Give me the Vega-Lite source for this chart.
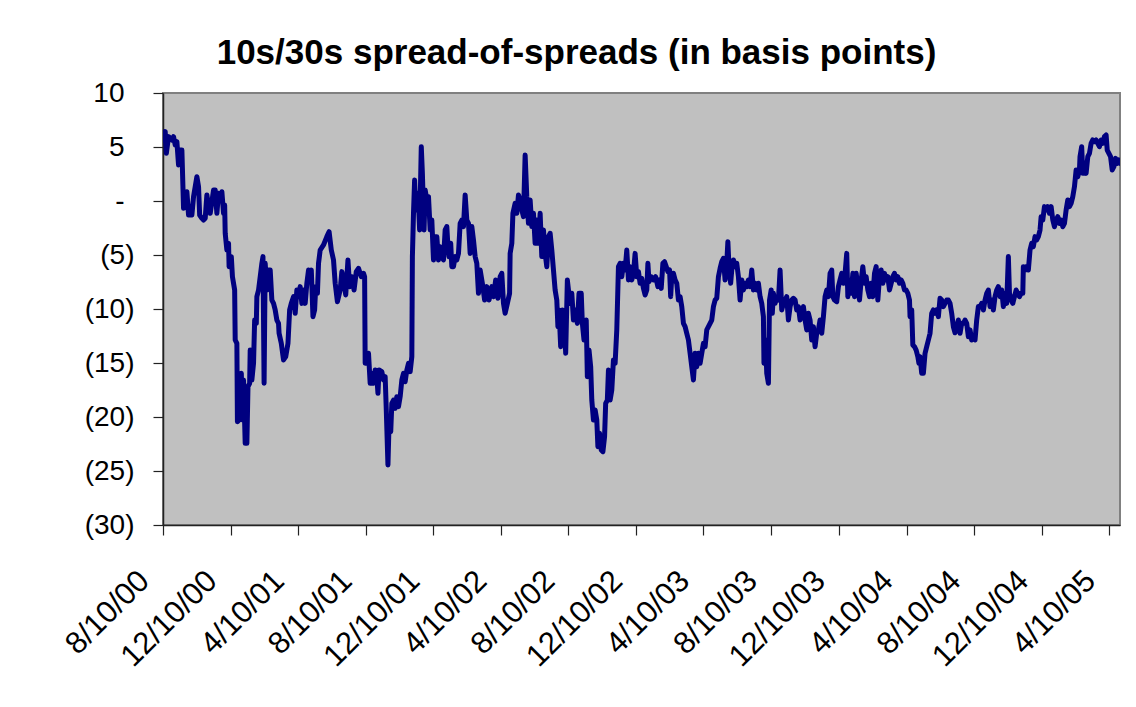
{
"$schema": "https://vega.github.io/schema/vega-lite/v6.json",
"width": 957, "height": 432,
"autosize": {"type": "none"},
"padding": {"left": 163, "top": 93, "right": 16, "bottom": 182},
"background": "white",
"title": {"text": "10s/30s spread-of-spreads (in basis points)", "font": "Liberation Sans", "fontSize": 35, "fontWeight": "bold", "color": "#000000", "anchor": "middle", "frame": "group", "dx": -65, "dy": 48, "offset": 28, "baseline": "alphabetic"},
"config": {"view": {"fill": "#C0C0C0", "stroke": "#808080", "strokeWidth": 2}, "axis": {"grid": false, "labelFont": "Liberation Sans", "labelColor": "#000000", "domainColor": "#222222", "tickColor": "#222222", "tickSize": 10, "domainWidth": 1.5, "tickWidth": 1.2}},
"data": {"values": [
{"date":"2000-08-10","bp":5.65},{"date":"2000-08-14","bp":6.42},{"date":"2000-08-16","bp":4.41},{"date":"2000-08-20","bp":5.96},{"date":"2000-08-26","bp":5.65},{"date":"2000-08-29","bp":5.96},{"date":"2000-09-01","bp":5.19},{"date":"2000-09-04","bp":5.49},{"date":"2000-09-07","bp":3.33},{"date":"2000-09-10","bp":4.72},{"date":"2000-09-13","bp":4.72},{"date":"2000-09-16","bp":-0.68},{"date":"2000-09-19","bp":0.09},{"date":"2000-09-22","bp":0.86},{"date":"2000-09-25","bp":-1.30},{"date":"2000-09-28","bp":-0.52},{"date":"2000-10-01","bp":-1.30},{"date":"2000-10-04","bp":0.40},{"date":"2000-10-07","bp":1.33},{"date":"2000-10-10","bp":2.25},{"date":"2000-10-13","bp":1.33},{"date":"2000-10-15","bp":-1.30},{"date":"2000-10-19","bp":-1.60},{"date":"2000-10-22","bp":-1.76},{"date":"2000-10-25","bp":-1.60},{"date":"2000-10-28","bp":0.56},{"date":"2000-10-31","bp":-0.52},{"date":"2000-11-03","bp":-1.14},{"date":"2000-11-06","bp":-0.06},{"date":"2000-11-09","bp":1.02},{"date":"2000-11-12","bp":1.02},{"date":"2000-11-15","bp":-1.14},{"date":"2000-11-18","bp":0.71},{"date":"2000-11-21","bp":0.09},{"date":"2000-11-24","bp":0.86},{"date":"2000-11-27","bp":-1.14},{"date":"2000-11-29","bp":-0.37},{"date":"2000-11-30","bp":-2.99},{"date":"2000-12-03","bp":-4.54},{"date":"2000-12-06","bp":-3.92},{"date":"2000-12-07","bp":-6.08},{"date":"2000-12-11","bp":-5.15},{"date":"2000-12-13","bp":-7.01},{"date":"2000-12-17","bp":-8.24},{"date":"2000-12-18","bp":-12.87},{"date":"2000-12-21","bp":-13.18},{"date":"2000-12-22","bp":-20.43},{"date":"2000-12-25","bp":-20.28},{"date":"2000-12-29","bp":-15.96},{"date":"2000-12-31","bp":-20.28},
{"date":"2001-01-02","bp":-16.57},{"date":"2001-01-05","bp":-22.44},{"date":"2001-01-08","bp":-22.44},{"date":"2001-01-10","bp":-17.19},{"date":"2001-01-13","bp":-16.88},{"date":"2001-01-14","bp":-13.80},{"date":"2001-01-17","bp":-16.57},{"date":"2001-01-20","bp":-15.03},{"date":"2001-01-22","bp":-11.02},{"date":"2001-01-25","bp":-11.33},{"date":"2001-01-26","bp":-8.86},{"date":"2001-01-29","bp":-8.24},{"date":"2001-02-01","bp":-7.01},{"date":"2001-02-04","bp":-5.77},{"date":"2001-02-06","bp":-5.15},{"date":"2001-02-08","bp":-16.88},{"date":"2001-02-10","bp":-5.77},{"date":"2001-02-13","bp":-8.24},{"date":"2001-02-16","bp":-6.39},{"date":"2001-02-19","bp":-6.39},{"date":"2001-02-22","bp":-9.17},{"date":"2001-02-25","bp":-9.48},{"date":"2001-02-28","bp":-10.09},{"date":"2001-03-03","bp":-11.02},{"date":"2001-03-06","bp":-11.33},{"date":"2001-03-07","bp":-12.25},{"date":"2001-03-11","bp":-13.18},{"date":"2001-03-15","bp":-14.72},{"date":"2001-03-19","bp":-14.41},{"date":"2001-03-23","bp":-13.18},{"date":"2001-03-26","bp":-10.09},{"date":"2001-03-29","bp":-9.48},{"date":"2001-04-02","bp":-8.86},{"date":"2001-04-05","bp":-10.40},{"date":"2001-04-08","bp":-8.24},{"date":"2001-04-11","bp":-8.86},{"date":"2001-04-14","bp":-7.93},{"date":"2001-04-17","bp":-9.48},{"date":"2001-04-20","bp":-8.24},{"date":"2001-04-23","bp":-9.48},{"date":"2001-04-26","bp":-7.62},{"date":"2001-04-29","bp":-6.39},{"date":"2001-05-02","bp":-6.70},{"date":"2001-05-04","bp":-6.39},{"date":"2001-05-07","bp":-10.71},{"date":"2001-05-10","bp":-10.09},{"date":"2001-05-12","bp":-7.93},{"date":"2001-05-15","bp":-8.55},{"date":"2001-05-17","bp":-5.77},
{"date":"2001-05-20","bp":-4.54},{"date":"2001-05-26","bp":-4.07},{"date":"2001-06-01","bp":-3.30},{"date":"2001-06-05","bp":-2.84},{"date":"2001-06-09","bp":-4.54},{"date":"2001-06-13","bp":-5.46},{"date":"2001-06-16","bp":-7.62},{"date":"2001-06-20","bp":-9.32},{"date":"2001-06-25","bp":-8.24},{"date":"2001-06-28","bp":-6.54},{"date":"2001-07-01","bp":-7.31},{"date":"2001-07-05","bp":-8.70},{"date":"2001-07-09","bp":-5.46},{"date":"2001-07-12","bp":-7.93},{"date":"2001-07-16","bp":-7.01},{"date":"2001-07-20","bp":-8.24},{"date":"2001-07-24","bp":-6.54},{"date":"2001-07-28","bp":-6.23},{"date":"2001-08-02","bp":-7.01},{"date":"2001-08-06","bp":-6.70},{"date":"2001-08-08","bp":-7.01},{"date":"2001-08-09","bp":-15.03},{"date":"2001-08-12","bp":-15.03},{"date":"2001-08-15","bp":-14.10},{"date":"2001-08-18","bp":-16.88},{"date":"2001-08-21","bp":-15.96},{"date":"2001-08-24","bp":-16.88},{"date":"2001-08-27","bp":-15.65},{"date":"2001-08-30","bp":-16.27},{"date":"2001-09-01","bp":-17.81},{"date":"2001-09-03","bp":-15.65},{"date":"2001-09-08","bp":-15.80},{"date":"2001-09-11","bp":-16.57},{"date":"2001-09-14","bp":-16.27},{"date":"2001-09-16","bp":-19.35},{"date":"2001-09-19","bp":-24.44},{"date":"2001-09-21","bp":-20.59},{"date":"2001-09-24","bp":-21.36},{"date":"2001-09-26","bp":-18.73},{"date":"2001-09-29","bp":-18.43},{"date":"2001-10-02","bp":-19.20},{"date":"2001-10-05","bp":-18.12},{"date":"2001-10-08","bp":-19.04},{"date":"2001-10-11","bp":-18.12},{"date":"2001-10-14","bp":-16.57},{"date":"2001-10-17","bp":-15.96},{"date":"2001-10-20","bp":-16.73},{"date":"2001-10-23","bp":-15.65},{"date":"2001-10-26","bp":-15.03},{"date":"2001-10-29","bp":-15.80},{"date":"2001-11-01","bp":-14.41},{"date":"2001-11-02","bp":-5.15},{"date":"2001-11-04","bp":-1.14},{"date":"2001-11-06","bp":1.94},{"date":"2001-11-08","bp":-0.83},{"date":"2001-11-11","bp":0.71},{"date":"2001-11-13","bp":-0.22},{"date":"2001-11-15","bp":-2.68},{"date":"2001-11-18","bp":5.03},{"date":"2001-11-20","bp":2.56},{"date":"2001-11-23","bp":-2.68},{"date":"2001-11-25","bp":1.02},{"date":"2001-11-28","bp":0.09},{"date":"2001-12-01","bp":0.40},{"date":"2001-12-04","bp":-2.68},{"date":"2001-12-07","bp":-1.76},{"date":"2001-12-10","bp":-5.46},{"date":"2001-12-13","bp":-3.30},{"date":"2001-12-16","bp":-3.30},{"date":"2001-12-19","bp":-5.46},{"date":"2001-12-22","bp":-4.23},{"date":"2001-12-25","bp":-5.15},{"date":"2001-12-28","bp":-5.46},{"date":"2001-12-31","bp":-2.68},
{"date":"2002-01-03","bp":-2.37},{"date":"2002-01-05","bp":-4.23},{"date":"2002-01-07","bp":-5.15},{"date":"2002-01-10","bp":-3.92},{"date":"2002-01-12","bp":-6.08},{"date":"2002-01-15","bp":-6.08},{"date":"2002-01-18","bp":-5.15},{"date":"2002-01-21","bp":-5.46},{"date":"2002-01-24","bp":-4.85},{"date":"2002-01-27","bp":-2.07},{"date":"2002-01-30","bp":-1.76},{"date":"2002-02-02","bp":-2.37},{"date":"2002-02-05","bp":0.56},{"date":"2002-02-08","bp":-1.76},{"date":"2002-02-11","bp":-2.07},{"date":"2002-02-14","bp":-4.85},{"date":"2002-02-17","bp":-2.37},{"date":"2002-02-20","bp":-3.61},{"date":"2002-02-23","bp":-5.15},{"date":"2002-02-26","bp":-5.77},{"date":"2002-03-01","bp":-8.55},{"date":"2002-03-04","bp":-6.39},{"date":"2002-03-08","bp":-7.62},{"date":"2002-03-12","bp":-9.17},{"date":"2002-03-16","bp":-7.93},{"date":"2002-03-20","bp":-9.17},{"date":"2002-03-25","bp":-7.93},{"date":"2002-03-28","bp":-8.86},{"date":"2002-04-01","bp":-7.31},{"date":"2002-04-05","bp":-9.01},{"date":"2002-04-09","bp":-7.01},{"date":"2002-04-12","bp":-6.70},{"date":"2002-04-15","bp":-9.48},{"date":"2002-04-18","bp":-10.40},{"date":"2002-04-22","bp":-9.48},{"date":"2002-04-26","bp":-8.55},{"date":"2002-04-27","bp":-4.85},{"date":"2002-04-30","bp":-3.92},{"date":"2002-05-02","bp":-1.14},{"date":"2002-05-06","bp":-0.22},{"date":"2002-05-09","bp":-1.14},{"date":"2002-05-12","bp":0.56},{"date":"2002-05-15","bp":0.09},{"date":"2002-05-18","bp":-0.83},{"date":"2002-05-21","bp":-1.45},{"date":"2002-05-24","bp":4.26},{"date":"2002-05-27","bp":0.40},{"date":"2002-05-30","bp":-2.07},{"date":"2002-06-02","bp":0.09},{"date":"2002-06-05","bp":-2.37},{"date":"2002-06-08","bp":-1.14},{"date":"2002-06-11","bp":-3.92},{"date":"2002-06-14","bp":-1.76},{"date":"2002-06-17","bp":-3.92},{"date":"2002-06-20","bp":-1.14},{"date":"2002-06-23","bp":-5.15},{"date":"2002-06-26","bp":-2.68},{"date":"2002-06-29","bp":-4.85},{"date":"2002-07-02","bp":-6.08},{"date":"2002-07-05","bp":-3.30},{"date":"2002-07-08","bp":-2.99},{"date":"2002-07-11","bp":-4.54},{"date":"2002-07-14","bp":-6.39},{"date":"2002-07-17","bp":-8.24},{"date":"2002-07-20","bp":-9.17},{"date":"2002-07-22","bp":-11.64},{"date":"2002-07-24","bp":-10.09},{"date":"2002-07-27","bp":-13.49},{"date":"2002-07-30","bp":-10.09},{"date":"2002-08-03","bp":-11.64},{"date":"2002-08-05","bp":-14.10},{"date":"2002-08-08","bp":-7.31},{"date":"2002-08-10","bp":-8.24},{"date":"2002-08-13","bp":-9.48},{"date":"2002-08-16","bp":-8.55},{"date":"2002-08-19","bp":-11.02},{"date":"2002-08-22","bp":-10.09},{"date":"2002-08-26","bp":-11.33},{"date":"2002-08-29","bp":-8.55},{"date":"2002-09-02","bp":-8.55},{"date":"2002-09-04","bp":-11.33},{"date":"2002-09-07","bp":-12.87},{"date":"2002-09-11","bp":-11.02},{"date":"2002-09-13","bp":-16.27},{"date":"2002-09-16","bp":-13.80},{"date":"2002-09-19","bp":-15.34},{"date":"2002-09-21","bp":-18.43},{"date":"2002-09-24","bp":-20.28},{"date":"2002-09-27","bp":-19.35},{"date":"2002-09-30","bp":-20.28},{"date":"2002-10-02","bp":-22.75},{"date":"2002-10-05","bp":-21.51},{"date":"2002-10-08","bp":-23.06},{"date":"2002-10-11","bp":-23.21},{"date":"2002-10-14","bp":-21.82},{"date":"2002-10-16","bp":-18.73},{"date":"2002-10-19","bp":-18.43},{"date":"2002-10-21","bp":-15.65},{"date":"2002-10-24","bp":-18.43},{"date":"2002-10-27","bp":-17.50},{"date":"2002-10-30","bp":-14.72},{"date":"2002-11-02","bp":-15.03},{"date":"2002-11-05","bp":-11.94},{"date":"2002-11-08","bp":-6.08},{"date":"2002-11-11","bp":-5.77},{"date":"2002-11-14","bp":-7.01},{"date":"2002-11-17","bp":-5.77},{"date":"2002-11-20","bp":-6.39},{"date":"2002-11-23","bp":-4.54},{"date":"2002-11-26","bp":-7.31},{"date":"2002-11-29","bp":-6.08},{"date":"2002-12-02","bp":-7.31},{"date":"2002-12-05","bp":-6.70},{"date":"2002-12-08","bp":-4.85},{"date":"2002-12-11","bp":-7.01},{"date":"2002-12-14","bp":-6.54},{"date":"2002-12-17","bp":-7.62},{"date":"2002-12-20","bp":-7.16},{"date":"2002-12-23","bp":-8.09},{"date":"2002-12-26","bp":-8.70},{"date":"2002-12-29","bp":-8.24},{"date":"2002-12-31","bp":-5.77},
{"date":"2003-01-02","bp":-7.47},{"date":"2003-01-06","bp":-7.01},{"date":"2003-01-10","bp":-7.31},{"date":"2003-01-14","bp":-7.01},{"date":"2003-01-18","bp":-7.93},{"date":"2003-01-20","bp":-7.31},{"date":"2003-01-24","bp":-8.09},{"date":"2003-01-27","bp":-5.77},{"date":"2003-01-30","bp":-5.62},{"date":"2003-02-02","bp":-6.08},{"date":"2003-02-05","bp":-6.54},{"date":"2003-02-08","bp":-6.39},{"date":"2003-02-10","bp":-8.86},{"date":"2003-02-12","bp":-7.01},{"date":"2003-02-15","bp":-6.70},{"date":"2003-02-18","bp":-7.31},{"date":"2003-02-21","bp":-7.62},{"date":"2003-02-24","bp":-9.17},{"date":"2003-02-27","bp":-8.86},{"date":"2003-03-02","bp":-9.78},{"date":"2003-03-05","bp":-11.33},{"date":"2003-03-08","bp":-11.64},{"date":"2003-03-11","bp":-12.25},{"date":"2003-03-14","bp":-12.87},{"date":"2003-03-17","bp":-14.10},{"date":"2003-03-20","bp":-15.34},{"date":"2003-03-23","bp":-16.57},{"date":"2003-03-26","bp":-14.10},{"date":"2003-03-29","bp":-15.34},{"date":"2003-04-01","bp":-14.10},{"date":"2003-04-04","bp":-15.03},{"date":"2003-04-07","bp":-14.10},{"date":"2003-04-10","bp":-13.18},{"date":"2003-04-13","bp":-13.49},{"date":"2003-04-16","bp":-11.94},{"date":"2003-04-19","bp":-11.64},{"date":"2003-04-22","bp":-11.33},{"date":"2003-04-25","bp":-11.02},{"date":"2003-04-28","bp":-9.78},{"date":"2003-05-01","bp":-9.17},{"date":"2003-05-04","bp":-9.01},{"date":"2003-05-07","bp":-7.01},{"date":"2003-05-10","bp":-6.24},{"date":"2003-05-13","bp":-5.62},{"date":"2003-05-16","bp":-5.31},{"date":"2003-05-19","bp":-7.31},{"date":"2003-05-22","bp":-5.77},{"date":"2003-05-24","bp":-3.77},{"date":"2003-05-26","bp":-6.08},{"date":"2003-05-29","bp":-7.62},{"date":"2003-05-31","bp":-6.39},{"date":"2003-06-03","bp":-5.46},{"date":"2003-06-06","bp":-6.08},{"date":"2003-06-09","bp":-5.77},{"date":"2003-06-12","bp":-7.01},{"date":"2003-06-15","bp":-9.17},{"date":"2003-06-18","bp":-7.31},{"date":"2003-06-21","bp":-8.24},{"date":"2003-06-24","bp":-7.62},{"date":"2003-06-27","bp":-7.93},{"date":"2003-06-30","bp":-7.31},{"date":"2003-07-03","bp":-7.93},{"date":"2003-07-06","bp":-6.39},{"date":"2003-07-09","bp":-8.24},{"date":"2003-07-12","bp":-7.62},{"date":"2003-07-15","bp":-8.24},{"date":"2003-07-18","bp":-7.62},{"date":"2003-07-21","bp":-8.86},{"date":"2003-07-24","bp":-9.48},{"date":"2003-07-27","bp":-10.71},{"date":"2003-07-28","bp":-15.03},{"date":"2003-07-31","bp":-12.87},{"date":"2003-08-02","bp":-15.96},{"date":"2003-08-05","bp":-16.88},{"date":"2003-08-07","bp":-9.17},{"date":"2003-08-10","bp":-8.24},{"date":"2003-08-12","bp":-10.40},{"date":"2003-08-14","bp":-8.55},{"date":"2003-08-17","bp":-9.48},{"date":"2003-08-20","bp":-8.86},{"date":"2003-08-23","bp":-9.17},{"date":"2003-08-26","bp":-6.39},{"date":"2003-08-29","bp":-10.09},{"date":"2003-09-01","bp":-9.48},{"date":"2003-09-04","bp":-9.17},{"date":"2003-09-07","bp":-8.86},{"date":"2003-09-10","bp":-11.02},{"date":"2003-09-13","bp":-9.78},{"date":"2003-09-16","bp":-9.17},{"date":"2003-09-19","bp":-9.01},{"date":"2003-09-22","bp":-9.17},{"date":"2003-09-25","bp":-10.09},{"date":"2003-09-28","bp":-9.78},{"date":"2003-10-01","bp":-11.02},{"date":"2003-10-04","bp":-10.40},{"date":"2003-10-07","bp":-9.78},{"date":"2003-10-10","bp":-11.02},{"date":"2003-10-13","bp":-11.94},{"date":"2003-10-16","bp":-10.40},{"date":"2003-10-19","bp":-11.02},{"date":"2003-10-22","bp":-12.87},{"date":"2003-10-25","bp":-11.64},{"date":"2003-10-28","bp":-13.49},{"date":"2003-10-31","bp":-12.25},{"date":"2003-11-03","bp":-11.94},{"date":"2003-11-06","bp":-11.02},{"date":"2003-11-09","bp":-12.25},{"date":"2003-11-12","bp":-10.71},{"date":"2003-11-15","bp":-8.86},{"date":"2003-11-18","bp":-8.24},{"date":"2003-11-21","bp":-8.86},{"date":"2003-11-24","bp":-6.70},{"date":"2003-11-27","bp":-6.39},{"date":"2003-11-29","bp":-8.86},{"date":"2003-12-02","bp":-9.17},{"date":"2003-12-06","bp":-9.32},{"date":"2003-12-09","bp":-7.93},{"date":"2003-12-12","bp":-7.31},{"date":"2003-12-15","bp":-6.70},{"date":"2003-12-18","bp":-7.62},{"date":"2003-12-21","bp":-6.70},{"date":"2003-12-24","bp":-4.85},{"date":"2003-12-26","bp":-8.86},{"date":"2003-12-29","bp":-7.31},
{"date":"2004-01-01","bp":-8.55},{"date":"2004-01-04","bp":-6.70},{"date":"2004-01-07","bp":-8.86},{"date":"2004-01-10","bp":-6.70},{"date":"2004-01-13","bp":-7.93},{"date":"2004-01-16","bp":-9.17},{"date":"2004-01-19","bp":-7.31},{"date":"2004-01-22","bp":-6.08},{"date":"2004-01-25","bp":-7.62},{"date":"2004-01-28","bp":-7.01},{"date":"2004-01-31","bp":-8.24},{"date":"2004-02-03","bp":-8.86},{"date":"2004-02-06","bp":-7.62},{"date":"2004-02-09","bp":-8.86},{"date":"2004-02-12","bp":-6.70},{"date":"2004-02-15","bp":-6.08},{"date":"2004-02-18","bp":-9.17},{"date":"2004-02-21","bp":-7.01},{"date":"2004-02-24","bp":-6.39},{"date":"2004-02-27","bp":-7.62},{"date":"2004-03-01","bp":-6.70},{"date":"2004-03-04","bp":-7.31},{"date":"2004-03-07","bp":-7.01},{"date":"2004-03-10","bp":-8.24},{"date":"2004-03-13","bp":-7.62},{"date":"2004-03-16","bp":-7.01},{"date":"2004-03-19","bp":-6.70},{"date":"2004-03-22","bp":-7.31},{"date":"2004-03-25","bp":-7.01},{"date":"2004-03-28","bp":-7.62},{"date":"2004-03-31","bp":-7.31},{"date":"2004-04-03","bp":-7.62},{"date":"2004-04-06","bp":-8.24},{"date":"2004-04-09","bp":-8.24},{"date":"2004-04-12","bp":-8.55},{"date":"2004-04-15","bp":-9.17},{"date":"2004-04-16","bp":-10.71},{"date":"2004-04-19","bp":-10.09},{"date":"2004-04-21","bp":-13.33},{"date":"2004-04-24","bp":-13.49},{"date":"2004-04-27","bp":-13.80},{"date":"2004-04-30","bp":-14.41},{"date":"2004-05-02","bp":-15.03},{"date":"2004-05-04","bp":-14.41},{"date":"2004-05-07","bp":-15.96},{"date":"2004-05-10","bp":-15.96},{"date":"2004-05-13","bp":-14.10},{"date":"2004-05-16","bp":-13.49},{"date":"2004-05-19","bp":-12.87},{"date":"2004-05-22","bp":-12.25},{"date":"2004-05-25","bp":-10.40},{"date":"2004-05-28","bp":-10.09},{"date":"2004-05-31","bp":-10.40},{"date":"2004-06-03","bp":-10.09},{"date":"2004-06-06","bp":-10.71},{"date":"2004-06-09","bp":-9.01},{"date":"2004-06-12","bp":-9.17},{"date":"2004-06-15","bp":-9.78},{"date":"2004-06-18","bp":-9.48},{"date":"2004-06-21","bp":-9.17},{"date":"2004-06-24","bp":-9.17},{"date":"2004-06-27","bp":-9.48},{"date":"2004-06-30","bp":-10.40},{"date":"2004-07-03","bp":-11.64},{"date":"2004-07-06","bp":-12.20},{"date":"2004-07-09","bp":-11.64},{"date":"2004-07-12","bp":-11.02},{"date":"2004-07-15","bp":-12.25},{"date":"2004-07-18","bp":-11.33},{"date":"2004-07-21","bp":-11.33},{"date":"2004-07-24","bp":-11.02},{"date":"2004-07-27","bp":-11.33},{"date":"2004-07-30","bp":-12.56},{"date":"2004-08-02","bp":-11.94},{"date":"2004-08-05","bp":-12.87},{"date":"2004-08-08","bp":-12.56},{"date":"2004-08-11","bp":-12.87},{"date":"2004-08-14","bp":-11.02},{"date":"2004-08-17","bp":-9.78},{"date":"2004-08-20","bp":-9.78},{"date":"2004-08-23","bp":-9.48},{"date":"2004-08-26","bp":-10.09},{"date":"2004-08-29","bp":-9.17},{"date":"2004-09-01","bp":-8.55},{"date":"2004-09-04","bp":-8.24},{"date":"2004-09-07","bp":-9.78},{"date":"2004-09-10","bp":-9.17},{"date":"2004-09-13","bp":-10.09},{"date":"2004-09-16","bp":-8.86},{"date":"2004-09-19","bp":-8.24},{"date":"2004-09-22","bp":-7.93},{"date":"2004-09-25","bp":-8.86},{"date":"2004-09-28","bp":-8.24},{"date":"2004-10-01","bp":-9.78},{"date":"2004-10-04","bp":-8.55},{"date":"2004-10-07","bp":-9.48},{"date":"2004-10-10","bp":-5.15},{"date":"2004-10-12","bp":-8.55},{"date":"2004-10-15","bp":-9.17},{"date":"2004-10-18","bp":-9.48},{"date":"2004-10-21","bp":-8.86},{"date":"2004-10-24","bp":-8.24},{"date":"2004-10-27","bp":-8.55},{"date":"2004-10-30","bp":-8.86},{"date":"2004-11-02","bp":-8.55},{"date":"2004-11-05","bp":-8.55},{"date":"2004-11-06","bp":-6.08},{"date":"2004-11-09","bp":-6.39},{"date":"2004-11-12","bp":-6.08},{"date":"2004-11-15","bp":-6.39},{"date":"2004-11-18","bp":-4.54},{"date":"2004-11-21","bp":-3.92},{"date":"2004-11-24","bp":-4.23},{"date":"2004-11-27","bp":-3.30},{"date":"2004-11-30","bp":-3.61},{"date":"2004-12-03","bp":-3.30},{"date":"2004-12-06","bp":-2.69},{"date":"2004-12-08","bp":-1.45},{"date":"2004-12-11","bp":-1.76},{"date":"2004-12-14","bp":-0.52},{"date":"2004-12-17","bp":-0.83},{"date":"2004-12-20","bp":-0.52},{"date":"2004-12-23","bp":-1.14},{"date":"2004-12-26","bp":-0.52},{"date":"2004-12-29","bp":-1.76},
{"date":"2005-01-01","bp":-2.38},{"date":"2005-01-04","bp":-1.76},{"date":"2005-01-07","bp":-1.45},{"date":"2005-01-10","bp":-2.07},{"date":"2005-01-13","bp":-1.76},{"date":"2005-01-16","bp":-2.38},{"date":"2005-01-19","bp":-2.07},{"date":"2005-01-22","bp":-0.83},{"date":"2005-01-25","bp":0.09},{"date":"2005-01-28","bp":-0.52},{"date":"2005-01-31","bp":-0.22},{"date":"2005-02-03","bp":0.40},{"date":"2005-02-06","bp":1.33},{"date":"2005-02-09","bp":2.87},{"date":"2005-02-12","bp":2.25},{"date":"2005-02-15","bp":2.87},{"date":"2005-02-16","bp":4.10},{"date":"2005-02-19","bp":5.03},{"date":"2005-02-21","bp":2.56},{"date":"2005-02-24","bp":3.49},{"date":"2005-02-27","bp":2.56},{"date":"2005-03-02","bp":4.10},{"date":"2005-03-05","bp":4.41},{"date":"2005-03-08","bp":5.34},{"date":"2005-03-11","bp":5.65},{"date":"2005-03-14","bp":5.49},{"date":"2005-03-17","bp":5.65},{"date":"2005-03-20","bp":5.34},{"date":"2005-03-23","bp":5.03},{"date":"2005-03-26","bp":5.65},{"date":"2005-03-29","bp":5.34},{"date":"2005-04-01","bp":5.96},{"date":"2005-04-04","bp":6.11},{"date":"2005-04-06","bp":4.72},{"date":"2005-04-09","bp":4.41},{"date":"2005-04-12","bp":4.10},{"date":"2005-04-15","bp":2.87},{"date":"2005-04-18","bp":3.18},{"date":"2005-04-21","bp":3.95},{"date":"2005-04-24","bp":3.49},{"date":"2005-04-27","bp":3.80},{"date":"2005-04-29","bp":3.49}
]},
"mark": {"type": "line", "color": "#000080", "strokeWidth": 5, "strokeJoin": "round", "strokeCap": "round", "clip": true},
"encoding": {
"x": {"field": "date", "type": "temporal",
 "scale": {"type": "utc", "domain": [{"year": 2000, "month": 8, "date": 10, "utc": true}, {"year": 2005, "month": 4, "date": 29, "utc": true}]},
 "axis": {"title": null, "values": [
  {"year": 2000, "month": 8, "date": 10, "utc": true}, {"year": 2000, "month": 12, "date": 10, "utc": true},
  {"year": 2001, "month": 4, "date": 10, "utc": true}, {"year": 2001, "month": 8, "date": 10, "utc": true}, {"year": 2001, "month": 12, "date": 10, "utc": true},
  {"year": 2002, "month": 4, "date": 10, "utc": true}, {"year": 2002, "month": 8, "date": 10, "utc": true}, {"year": 2002, "month": 12, "date": 10, "utc": true},
  {"year": 2003, "month": 4, "date": 10, "utc": true}, {"year": 2003, "month": 8, "date": 10, "utc": true}, {"year": 2003, "month": 12, "date": 10, "utc": true},
  {"year": 2004, "month": 4, "date": 10, "utc": true}, {"year": 2004, "month": 8, "date": 10, "utc": true}, {"year": 2004, "month": 12, "date": 10, "utc": true},
  {"year": 2005, "month": 4, "date": 10, "utc": true}],
  "labelExpr": "utcFormat(datum.value, '%-m/%-d/%y')",
  "labelAngle": -45, "labelAlign": "right", "labelBaseline": "middle", "labelFontSize": 31,
  "labelPadding": 41, "labelOffset": -19, "labelOverlap": false, "labelFlush": false, "labelBound": false}},
"y": {"field": "bp", "type": "quantitative",
 "scale": {"domain": [-30, 10], "nice": false, "zero": false},
 "axis": {"title": null, "values": [10, 5, 0, -5, -10, -15, -20, -25, -30],
  "labelExpr": "datum.value > 0 ? datum.value + '' : (datum.value == 0 ? '-' : '(' + (-datum.value) + ')')",
  "labelFontSize": 28,
  "labelPadding": {"condition": {"test": "datum.value >= 0", "value": 29}, "value": 19},
  "labelOverlap": false}}
}
}
